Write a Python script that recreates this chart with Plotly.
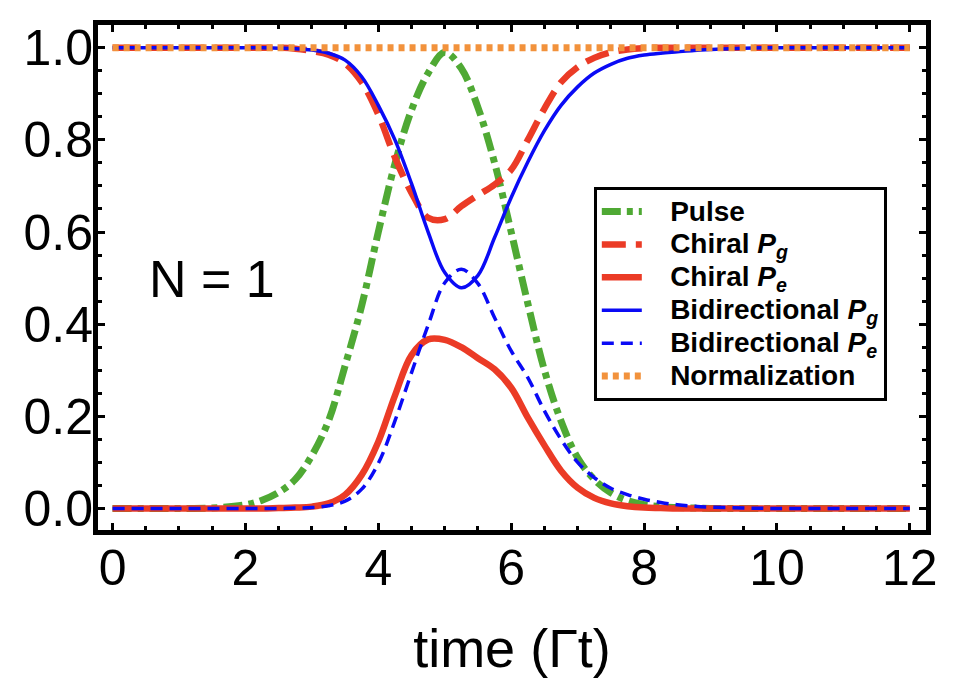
import plotly.graph_objects as go

# time grid (units of 1/Gamma) and the curves
time = [0, 0.5, 1, 1.5, 2, 2.25, 2.5, 2.75, 3, 3.25, 3.5, 3.75, 4, 4.25, 4.5,
        4.75, 5, 5.25, 5.5, 5.75, 6, 6.25, 6.5, 6.75, 7, 7.25, 7.5, 7.75, 8,
        8.25, 8.5, 8.75, 9, 9.5, 10, 11, 12]

pulse = [0, 0, 0, 0.001, 0.008, 0.018, 0.035, 0.063, 0.115, 0.19, 0.31, 0.44,
         0.60, 0.748, 0.865, 0.945, 0.99, 0.955, 0.87, 0.75, 0.60, 0.445, 0.30,
         0.19, 0.11, 0.063, 0.034, 0.017, 0.008, 0.004, 0.002, 0.001, 0, 0, 0,
         0, 0]

chiral_pg = [1, 1, 1, 1, 1, 1, 1.0, 0.998, 0.993, 0.985, 0.966, 0.925, 0.855,
             0.762, 0.685, 0.631, 0.628, 0.656, 0.68, 0.703, 0.735, 0.80,
             0.868, 0.925, 0.958, 0.978, 0.99, 0.996, 0.999, 1, 1, 1, 1, 1, 1,
             1, 1]

chiral_pe = [0, 0, 0, 0, 0, 0, 0.001, 0.002, 0.004, 0.011, 0.03, 0.073, 0.145,
             0.245, 0.333, 0.367, 0.366, 0.35, 0.326, 0.302, 0.262, 0.197,
             0.137, 0.082, 0.045, 0.023, 0.011, 0.005, 0.002, 0.001, 0, 0, 0,
             0, 0, 0, 0]

bidir_pg = [1, 1, 1, 1, 1, 1, 0.999, 0.998, 0.995, 0.988, 0.973, 0.937, 0.875,
            0.800, 0.705, 0.600, 0.512, 0.479, 0.506, 0.588, 0.675, 0.752,
            0.82, 0.875, 0.915, 0.945, 0.964, 0.977, 0.984, 0.988, 0.991,
            0.994, 0.996, 0.999, 1, 1, 1]

bidir_pe = [0, 0, 0, 0, 0, 0, 0, 0.001, 0.002, 0.006, 0.016, 0.042, 0.098,
            0.19, 0.295, 0.398, 0.49, 0.519, 0.488, 0.414, 0.342, 0.284, 0.212,
            0.15, 0.1, 0.067, 0.044, 0.03, 0.02, 0.013, 0.008, 0.005, 0.003,
            0.001, 0, 0, 0]

normalization = [1] * len(time)

x_ticks = [0, 2, 4, 6, 8, 10, 12]
x_labels = ["0", "2", "4", "6", "8", "10", "12"]
y_ticks = [0.0, 0.2, 0.4, 0.6, 0.8, 1.0]
y_labels = ["0.0", "0.2", "0.4", "0.6", "0.8", "1.0"]

GREEN = "#4FA934"
RED = "#EB3B26"
BLUE = "#0A0AF5"
ORANGE = "#F2923C"

NB = "\u00a0\u00a0\u00a0"


def entry(label):
    return f"<span style='font-size:28px'><b>{NB}{label}</b></span>"


series = [
    (entry("Pulse"), pulse,
     dict(color=GREEN, width=7, dash="19px,6px,6px,6px")),
    (entry("Chiral <i>P</i><sub><i>g</i></sub>"), chiral_pg,
     dict(color=RED, width=6.5, dash="24px,10px")),
    (entry("Chiral <i>P</i><sub><i>e</i></sub>"), chiral_pe,
     dict(color=RED, width=6.5)),
    (entry("Bidirectional <i>P</i><sub><i>g</i></sub>"), bidir_pg,
     dict(color=BLUE, width=3.5)),
    (entry("Bidirectional <i>P</i><sub><i>e</i></sub>"), bidir_pe,
     dict(color=BLUE, width=3.5, dash="12px,7px")),
    (entry("Normalization"), normalization,
     dict(color=ORANGE, width=7, dash="6px,5px")),
]

fig = go.Figure()
for name, vals, line in series:
    fig.add_trace(go.Scatter(x=time, y=vals, mode="lines", name=name,
                             line=dict(shape="spline", smoothing=1, **line)))

fig.add_annotation(x=1.5, y=0.497, text="N = 1", showarrow=False,
                   font=dict(size=52, color="black"))

axis_style = dict(
    showline=True, linecolor="black", linewidth=5, mirror="allticks",
    ticks="inside", ticklen=7, tickwidth=3, tickcolor="black",
    showgrid=False, zeroline=False, tickfont=dict(size=50, color="black"),
)

fig.update_xaxes(
    range=[-0.219, 12.243], tickmode="array", tickvals=x_ticks, ticktext=x_labels,
    minor=dict(ticks="inside", ticklen=4, tickwidth=2.5, tickcolor="black",
               tickmode="linear", tick0=0, dtick=0.5, showgrid=False),
    ticklabelstandoff=-10,
    title=dict(text="time (Γt)", font=dict(size=54, color="black"), standoff=36),
    **axis_style,
)
fig.update_yaxes(
    range=[-0.0467, 1.0493], tickmode="array", tickvals=y_ticks, ticktext=y_labels,
    minor=dict(ticks="inside", ticklen=4, tickwidth=2.5, tickcolor="black",
               tickmode="linear", tick0=0, dtick=0.05, showgrid=False),
    ticklabelstandoff=-10,
    **axis_style,
)

# the page body adds an 8px offset, so the figure is sized to fit inside it
fig.update_layout(
    width=942, height=674,
    margin=dict(l=90, r=17, t=14, b=148.5),
    plot_bgcolor="white", paper_bgcolor="white",
    font=dict(family="Liberation Sans, Arial, sans-serif", color="black"),
    showlegend=True,
    legend=dict(x=0.5988, y=0.679, xanchor="left", yanchor="top",
                bordercolor="black", borderwidth=3, bgcolor="white",
                font=dict(size=23, color="black"), itemwidth=40,
                tracegroupgap=0),
)

fig.write_html("out.html")
